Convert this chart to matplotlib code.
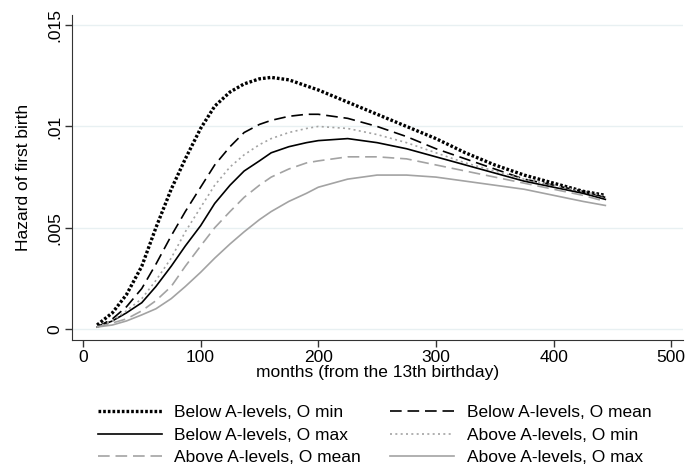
import numpy as np
import matplotlib.pyplot as plt

# months since 13th birthday
months = [12, 25, 37, 50, 62, 75, 87, 100, 112, 125, 137, 150, 160, 175, 190, 200,
          225, 250, 275, 300, 325, 350, 375, 400, 425, 444]

# hazard of first birth
below_omin  = [0.0002, 0.0008, 0.0017, 0.0031, 0.0050, 0.0069, 0.0084, 0.0099, 0.0110, 0.0117, 0.0121, 0.01235, 0.01242,
               0.0123, 0.0120, 0.0118, 0.0112, 0.0106, 0.0100, 0.0094, 0.0087, 0.0081, 0.0076, 0.0072, 0.0068, 0.0066]
below_omean = [0.0001, 0.0005, 0.0011, 0.0020, 0.0032, 0.0046, 0.0058, 0.0070, 0.0081, 0.0090, 0.0097, 0.0101, 0.0103,
               0.0105, 0.0106, 0.0106, 0.0104, 0.0100, 0.0095, 0.0089, 0.0084, 0.0079, 0.0074, 0.0071, 0.0068, 0.0065]
below_omax  = [0.0001, 0.0004, 0.0008, 0.0013, 0.0021, 0.0031, 0.0041, 0.0051, 0.0062, 0.0071, 0.0078, 0.0083, 0.0087,
               0.0090, 0.0092, 0.0093, 0.0094, 0.0092, 0.0089, 0.0085, 0.0081, 0.0077, 0.0073, 0.0070, 0.0067, 0.0064]
above_omin  = [0.0001, 0.0004, 0.0009, 0.0015, 0.0024, 0.0035, 0.0048, 0.0060, 0.0071, 0.0080, 0.0086, 0.0091, 0.0094,
               0.0097, 0.0099, 0.0100, 0.0099, 0.0096, 0.0092, 0.0087, 0.0082, 0.0078, 0.0074, 0.0071, 0.0068, 0.00655]
above_omean = [0.0001, 0.0003, 0.0005, 0.0009, 0.0014, 0.0021, 0.0031, 0.0041, 0.0050, 0.0058, 0.0065, 0.0071, 0.0075,
               0.0079, 0.0082, 0.0083, 0.0085, 0.0085, 0.0084, 0.0081, 0.0078, 0.0075, 0.0072, 0.0069, 0.0066, 0.0063]
above_omax  = [0.0001, 0.0002, 0.0004, 0.0007, 0.0010, 0.0015, 0.0021, 0.0028, 0.0035, 0.0042, 0.0048, 0.0054, 0.0058,
               0.0063, 0.0067, 0.0070, 0.0074, 0.0076, 0.0076, 0.0075, 0.0073, 0.0071, 0.0069, 0.0066, 0.0063, 0.0061]

labels = ["Below A-levels, O min", "Below A-levels, O mean", "Below A-levels, O max",
          "Above A-levels, O min", "Above A-levels, O mean", "Above A-levels, O max"]

xticks = [0, 100, 200, 300, 400, 500]
yticks = [0, 0.005, 0.01, 0.015]
ytick_labels = ["0", ".005", ".01", ".015"]

plt.rcParams['font.family'] = ['Liberation Sans', 'DejaVu Sans']
grey = "#a3a3a3"
fs = 12.5

fig = plt.figure(figsize=(6.87, 4.75), dpi=100)
ax = fig.add_axes([72/687, 1-340/475, 611/687, 325/475])

for y in yticks:
    ax.axhline(y, color="#e8f0f2", lw=1.0, zorder=0)

l1, = ax.plot(months, below_omin, color="black", lw=2.4, ls=(0, (0.8, 0.6)))
l2, = ax.plot(months, below_omean, color="black", lw=1.2, ls=(0, (7, 3.5)))
l3, = ax.plot(months, below_omax, color="black", lw=1.2)
l4, = ax.plot(months, above_omin, color=grey, lw=1.2, ls=(0, (1.2, 2)))
l5, = ax.plot(months, above_omean, color=grey, lw=1.2, ls=(0, (7, 3.5)))
l6, = ax.plot(months, above_omax, color=grey, lw=1.2)

ax.set_xlim(-9.3, 510)
ax.set_ylim(-0.00054, 0.0155)
ax.set_xticks(xticks)
ax.set_yticks(yticks)
ax.set_yticklabels(ytick_labels, rotation=90, va="center")
ax.tick_params(direction="out", length=5, width=1, color="#333333", labelsize=fs, pad=2)
for s in ["top", "right"]:
    ax.spines[s].set_visible(False)
for s in ["left", "bottom"]:
    ax.spines[s].set_color("#333333")
ax.set_xlabel("months (from the 13th birthday)", fontsize=fs, labelpad=0)
ax.set_ylabel("Hazard of first birth", fontsize=fs, labelpad=12)

# legend filled column-wise, so reorder to read row by row
handles = [l1, l3, l5, l2, l4, l6]
leg_labels = [labels[0], labels[2], labels[4], labels[1], labels[3], labels[5]]
fig.legend(handles, leg_labels, ncol=2, loc="lower center", bbox_to_anchor=(0.545, -0.012),
           frameon=False, fontsize=fs, handlelength=3.7, handletextpad=0.7,
           columnspacing=1.7, labelspacing=0.42)

fig.savefig("out.png", dpi=100)
